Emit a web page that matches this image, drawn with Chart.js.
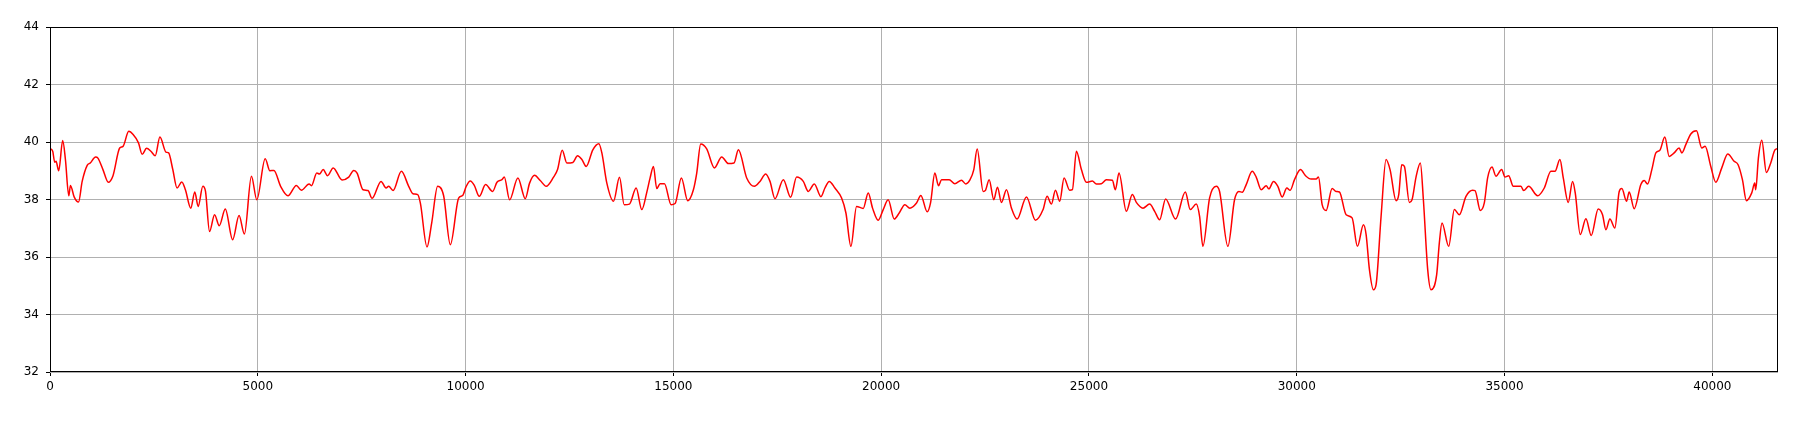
<!DOCTYPE html>
<html>
<head>
<meta charset="utf-8">
<script src="https://cdn.jsdelivr.net/npm/chart.js@4.4.0/dist/chart.umd.min.js"></script>
<style>
  body { margin: 0; background: #fff; }
  #wrap { width: 1800px; height: 428px; }
</style>
</head>
<body>
<div id="wrap"><canvas id="chart" width="1800" height="428"></canvas></div>
<script>
// sample index along x
const sampleIdx = [
  0, 65, 113, 145, 210, 306, 371, 452, 492, 581, 686, 774, 895, 968, 1097, 1153, 1274, 1403, 1516, 1677,
  1758, 1895, 2000, 2129, 2218, 2323, 2428, 2532, 2645, 2790, 2855, 2952, 3057, 3170, 3258, 3387, 3484, 3565, 3678, 3742,
  3839, 3960, 4073, 4218, 4395, 4549, 4678, 4847, 4976, 5178, 5291, 5388, 5549, 5726, 5928, 6049, 6234, 6291, 6420, 6484,
  6573, 6678, 6815, 7028, 7189, 7309, 7389, 7533, 7653, 7750, 7966, 8086, 8150, 8254, 8455, 8631, 8735, 8847, 8911, 9072,
  9184, 9328, 9472, 9633, 9833, 9929, 10017, 10113, 10210, 10330, 10482, 10650, 10755, 10875, 10931, 11059, 11259, 11436, 11540, 11660,
  11796, 11940, 12117, 12213, 12325, 12437, 12581, 12694, 12798, 12902, 13062, 13207, 13279, 13399, 13559, 13704, 13816, 13943, 14104, 14240,
  14360, 14440, 14520, 14600, 14681, 14785, 14945, 15041, 15193, 15345, 15482, 15562, 15658, 15802, 15987, 16163, 16323, 16459, 16564, 16764,
  16948, 17084, 17221, 17325, 17445, 17645, 17822, 17966, 18126, 18246, 18391, 18551, 18647, 18751, 18887, 19048, 19152, 19272, 19408, 19568,
  19689, 19793, 19929, 20049, 20169, 20314, 20434, 20570, 20690, 20851, 20955, 21108, 21188, 21292, 21380, 21452, 21637, 21773, 21933, 22037,
  22133, 22229, 22310, 22454, 22510, 22598, 22710, 22798, 22895, 23015, 23135, 23271, 23496, 23712, 23896, 23992, 24097, 24193, 24297, 24401,
  24537, 24601, 24698, 24818, 24938, 25082, 25178, 25298, 25419, 25563, 25635, 25723, 25899, 26044, 26140, 26300, 26460, 26581, 26701, 26845,
  27085, 27318, 27438, 27582, 27662, 27742, 27902, 28063, 28143, 28343, 28503, 28608, 28688, 28784, 28928, 29024, 29144, 29265, 29329, 29441,
  29545, 29649, 29761, 29842, 29946, 30090, 30210, 30346, 30467, 30523, 30611, 30707, 30851, 30947, 31027, 31188, 31332, 31460, 31604, 31669,
  31749, 31845, 31909, 32029, 32149, 32245, 32390, 32454, 32526, 32590, 32710, 32774, 32870, 32974, 33047, 33151, 33231, 33367, 33431, 33495,
  33656, 33792, 33912, 34072, 34233, 34289, 34417, 34513, 34593, 34698, 34794, 34930, 35011, 35099, 35211, 35395, 35459, 35580, 35796, 35956,
  36116, 36213, 36333, 36413, 36533, 36637, 36701, 36822, 36958, 37086, 37254, 37358, 37439, 37535, 37655, 37759, 37823, 37935, 37999, 38120,
  38280, 38360, 38440, 38544, 38641, 38737, 38857, 38961, 39081, 39201, 39266, 39362, 39482, 39618, 39746, 39826, 39963, 40083, 40227, 40371,
  40524, 40620, 40724, 40820, 40948, 41020, 41044, 41108, 41189, 41301, 41405, 41509, 41580
];

const values = [
  39.77, 39.68, 39.30, 39.33, 39.00, 40.05, 39.39, 38.13, 38.49, 38.09, 37.91, 38.63, 39.19, 39.27, 39.48, 39.44, 39.04, 38.60, 38.83, 39.79,
  39.85, 40.37, 40.26, 39.97, 39.57, 39.78, 39.68, 39.52, 40.17, 39.65, 39.62, 39.06, 38.40, 38.61, 38.34, 37.70, 38.26, 37.76, 38.46, 38.28,
  36.89, 37.47, 37.09, 37.67, 36.60, 37.44, 36.80, 38.81, 37.99, 39.42, 39.00, 39.01, 38.46, 38.13, 38.49, 38.32, 38.54, 38.48, 38.92, 38.89,
  39.04, 38.83, 39.10, 38.68, 38.78, 39.01, 38.92, 38.34, 38.31, 38.04, 38.63, 38.40, 38.46, 38.31, 38.98, 38.46, 38.20, 38.17, 37.88, 36.35,
  37.18, 38.46, 38.13, 36.43, 38.05, 38.14, 38.46, 38.64, 38.49, 38.11, 38.52, 38.28, 38.60, 38.69, 38.78, 37.99, 38.75, 38.03, 38.57, 38.84,
  38.66, 38.46, 38.78, 39.04, 39.71, 39.27, 39.29, 39.52, 39.39, 39.15, 39.73, 39.94, 39.62, 38.57, 37.94, 38.77, 37.82, 37.84, 38.40, 37.65,
  38.25, 38.75, 39.15, 38.38, 38.55, 38.55, 37.82, 37.86, 38.75, 37.96, 38.34, 38.92, 39.93, 39.76, 39.10, 39.48, 39.25, 39.27, 39.73, 38.75,
  38.46, 38.63, 38.89, 38.63, 38.03, 38.69, 38.08, 38.78, 38.63, 38.28, 38.54, 38.10, 38.40, 38.63, 38.40, 38.05, 37.53, 36.37, 37.76, 37.69,
  38.23, 37.70, 37.28, 37.65, 37.99, 37.32, 37.53, 37.82, 37.70, 37.88, 38.14, 37.57, 37.88, 38.92, 38.48, 38.69, 38.69, 38.55, 38.67, 38.54,
  38.67, 39.04, 39.76, 38.28, 38.32, 38.69, 37.99, 38.43, 37.90, 38.34, 37.70, 37.32, 38.09, 37.28, 37.65, 38.11, 37.84, 38.32, 37.94, 38.75,
  38.32, 38.34, 39.68, 39.04, 38.60, 38.64, 38.54, 38.55, 38.69, 38.67, 38.34, 38.92, 37.59, 38.17, 37.90, 37.70, 37.84, 37.59, 37.30, 38.02,
  37.32, 38.26, 37.65, 37.84, 37.41, 36.37, 38.05, 38.46, 38.28, 36.37, 37.99, 38.28, 38.25, 38.52, 38.98, 38.78, 38.34, 38.48, 38.37, 38.63,
  38.46, 38.09, 38.40, 38.32, 38.69, 39.04, 38.83, 38.71, 38.71, 38.78, 37.82, 37.62, 38.38, 38.28, 38.26, 37.47, 37.36, 36.37, 37.12, 36.78,
  35.56, 34.86, 35.04, 37.41, 39.39, 39.04, 37.96, 38.17, 39.21, 39.15, 37.90, 37.99, 38.78, 39.27, 37.99, 35.56, 34.86, 35.39, 36.49, 37.18,
  36.37, 37.65, 37.47, 38.11, 38.32, 38.31, 37.62, 37.88, 38.75, 39.13, 38.81, 39.04, 38.78, 38.83, 38.46, 38.46, 38.31, 38.46, 38.13, 38.40,
  38.98, 38.98, 39.39, 38.75, 37.90, 38.63, 38.23, 36.78, 37.33, 36.75, 37.67, 37.47, 36.95, 37.32, 37.01, 38.28, 38.38, 37.94, 38.26, 37.68,
  38.52, 38.66, 38.54, 39.04, 39.62, 39.71, 40.17, 39.50, 39.62, 39.79, 39.62, 39.91, 40.28, 40.39, 39.79, 39.85, 39.15, 38.60, 39.10, 39.58,
  39.33, 39.21, 38.69, 37.96, 38.23, 38.57, 38.34, 39.44, 40.06, 38.94, 39.27, 39.73, 39.77
];

const xTicks = [0, 5000, 10000, 15000, 20000, 25000, 30000, 35000, 40000];
const yTicks = [32, 34, 36, 38, 40, 42, 44];

// box around the plot area, like the matplotlib spines
const frame = {
  id: 'frame',
  afterDatasetsDraw(chart) {
    const { ctx, chartArea: a } = chart;
    ctx.save();
    ctx.strokeStyle = '#000';
    ctx.lineWidth = 1;
    ctx.strokeRect(Math.round(a.left) + 0.5, Math.round(a.top) + 0.5,
                   Math.round(a.right - a.left) - 1, Math.round(a.bottom - a.top) - 1);
    ctx.restore();
  }
};

const font = { family: 'DejaVu Sans', size: 12 };

new Chart(document.getElementById('chart'), {
  type: 'line',
  data: {
    datasets: [{
      data: sampleIdx.map((x, i) => ({ x: x, y: values[i] })),
      borderColor: '#ff0000',
      borderWidth: 1.5,
      pointRadius: 0,
      fill: false,
      tension: 0.4,
      cubicInterpolationMode: 'monotone'
    }]
  },
  options: {
    responsive: false,
    animation: false,
    layout: { padding: { top: 27, right: 22, left: 0, bottom: 0 } },
    plugins: { legend: { display: false }, tooltip: { enabled: false } },
    scales: {
      x: {
        type: 'linear',
        min: 0,
        max: 41580,
        afterBuildTicks: s => { s.ticks = xTicks.map(v => ({ value: v })); },
        afterFit: s => { s.height = 56; },
        border: { display: false },
        grid: { color: '#b0b0b0', lineWidth: 1, tickColor: '#000', tickLength: 4, tickWidth: 1 },
        ticks: { color: '#000', font: font, padding: 4, maxRotation: 0, callback: v => String(v) }
      },
      y: {
        min: 32,
        max: 44,
        afterBuildTicks: s => { s.ticks = yTicks.map(v => ({ value: v })); },
        afterFit: s => { s.width = 50; },
        border: { display: false },
        grid: { color: '#b0b0b0', lineWidth: 1, tickColor: '#000', tickLength: 4, tickWidth: 1 },
        ticks: { color: '#000', font: font, padding: 7, callback: v => String(v) }
      }
    }
  },
  plugins: [frame]
});
</script>
</body>
</html>
